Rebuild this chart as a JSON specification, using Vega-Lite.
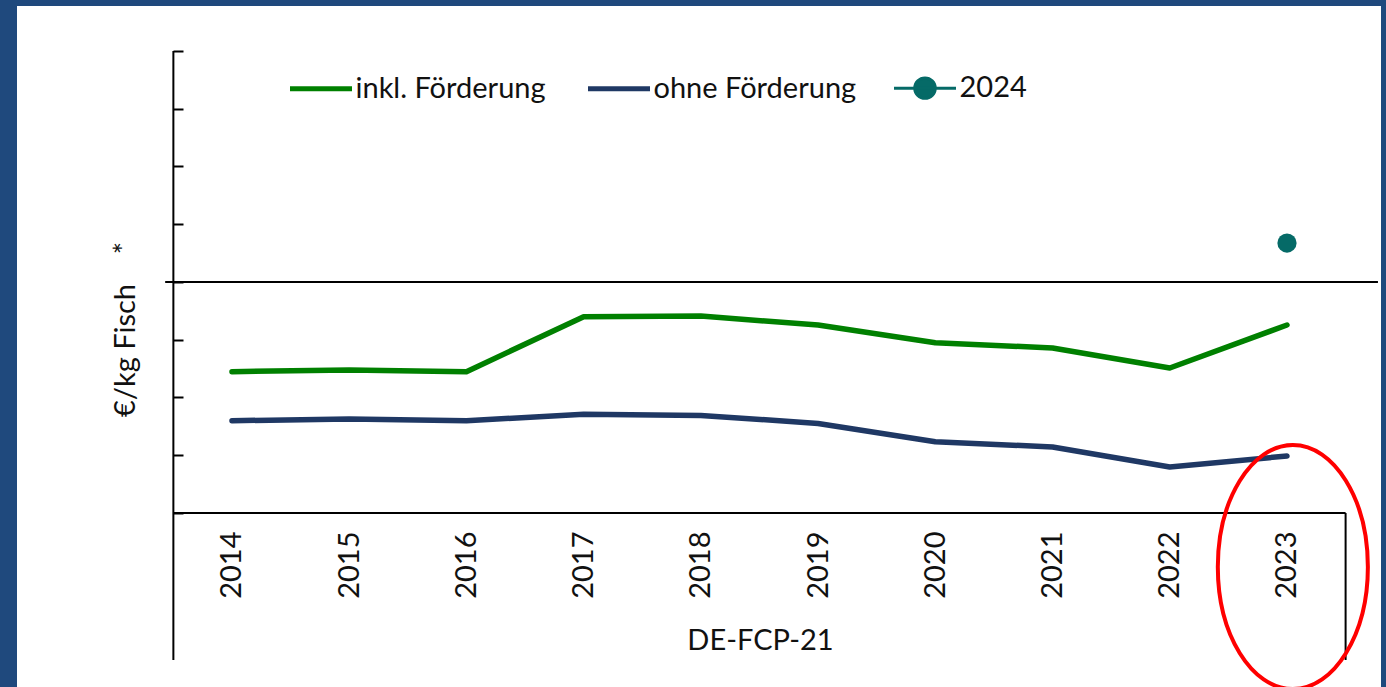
{
  "$schema": "https://vega.github.io/schema/vega-lite/v6.json",
  "width": 1364,
  "height": 681,
  "autosize": {"type": "none"},
  "padding": {"left": 17, "top": 6, "right": 5, "bottom": 0},
  "background": "#1F497D",
  "config": {
    "view": {"fill": "#FFFFFF", "stroke": null},
    "font": "Lato",
    "axis": {"grid": false}
  },
  "datasets": {
    "series": [
      {"year": 2014, "value": -1.553, "series": "inkl. Förderung"},
      {"year": 2015, "value": -1.524, "series": "inkl. Förderung"},
      {"year": 2016, "value": -1.553, "series": "inkl. Förderung"},
      {"year": 2017, "value": -0.600, "series": "inkl. Förderung"},
      {"year": 2018, "value": -0.590, "series": "inkl. Förderung"},
      {"year": 2019, "value": -0.745, "series": "inkl. Förderung"},
      {"year": 2020, "value": -1.052, "series": "inkl. Förderung"},
      {"year": 2021, "value": -1.143, "series": "inkl. Förderung"},
      {"year": 2022, "value": -1.489, "series": "inkl. Förderung"},
      {"year": 2023, "value": -0.745, "series": "inkl. Förderung"},
      {"year": 2014, "value": -2.402, "series": "ohne Förderung"},
      {"year": 2015, "value": -2.372, "series": "ohne Förderung"},
      {"year": 2016, "value": -2.402, "series": "ohne Förderung"},
      {"year": 2017, "value": -2.290, "series": "ohne Förderung"},
      {"year": 2018, "value": -2.310, "series": "ohne Förderung"},
      {"year": 2019, "value": -2.450, "series": "ohne Förderung"},
      {"year": 2020, "value": -2.766, "series": "ohne Förderung"},
      {"year": 2021, "value": -2.857, "series": "ohne Förderung"},
      {"year": 2022, "value": -3.203, "series": "ohne Förderung"},
      {"year": 2023, "value": -3.013, "series": "ohne Förderung"}
    ],
    "dot": [
      {"year": 2023, "value": 0.675, "series": "2024"}
    ]
  },
  "layer": [
    {
      "data": {"values": [{}]},
      "mark": {"type": "rule", "color": "#000000", "strokeWidth": 2},
      "encoding": {
        "x": {"datum": 2013.43, "type": "quantitative"},
        "x2": {"datum": 2023.776},
        "y": {"datum": 0, "type": "quantitative"}
      }
    },
    {
      "data": {"values": [{}]},
      "mark": {"type": "rule", "color": "#000000", "strokeWidth": 2},
      "encoding": {
        "x": {"datum": 2013.5, "type": "quantitative"},
        "y": {"datum": 4, "type": "quantitative"},
        "y2": {"datum": -6.545}
      }
    },
    {
      "data": {"values": [{}]},
      "mark": {"type": "rule", "color": "#000000", "strokeWidth": 2},
      "encoding": {
        "x": {"datum": 2013.5, "type": "quantitative"},
        "x2": {"datum": 2023.5},
        "y": {"datum": -4, "type": "quantitative"}
      }
    },
    {
      "data": {"values": [{}]},
      "mark": {"type": "rule", "color": "#000000", "strokeWidth": 2},
      "encoding": {
        "x": {"datum": 2023.5, "type": "quantitative"},
        "y": {"datum": -4, "type": "quantitative"},
        "y2": {"datum": -6.545}
      }
    },
    {
      "data": {"name": "series"},
      "mark": {"type": "line", "strokeWidth": 5.5, "strokeCap": "round", "strokeJoin": "round"},
      "encoding": {
        "x": {
          "field": "year",
          "type": "quantitative",
          "scale": {"domain": [2012.166, 2023.802], "nice": false, "zero": false},
          "axis": {
            "orient": "bottom",
            "offset": -175,
            "values": [2014, 2015, 2016, 2017, 2018, 2019, 2020, 2021, 2022, 2023],
            "format": "d",
            "labelAngle": 270,
            "labelAlign": "right",
            "labelBaseline": "middle",
            "labelPadding": 19,
            "ticks": false,
            "tickSize": 0,
            "domain": false,
            "labelFont": "Lato",
            "labelFontSize": 29,
            "labelColor": "#111111",
            "labelFlush": false,
            "labelOverlap": false,
            "title": "DE-FCP-21",
            "titleFont": "Lato",
            "titleFontSize": 29,
            "titleFontWeight": "normal",
            "titleColor": "#111111",
            "titleX": 743,
            "titleY": 128,
            "titleAlign": "center",
            "titleBaseline": "middle"
          }
        },
        "y": {
          "field": "value",
          "type": "quantitative",
          "scale": {"domain": [-7.013, 4.779], "nice": false, "zero": false},
          "axis": {
            "offset": -156,
            "values": [-4, -3, -2, -1, 0, 1, 2, 3, 4],
            "labels": false,
            "domain": false,
            "tickSize": -10,
            "tickWidth": 2,
            "tickColor": "#000000",
            "title": "€/kg Fisch\u00a0\u00a0\u00a0\u00a0*",
            "titleFont": "Lato",
            "titleFontSize": 29,
            "titleFontWeight": "normal",
            "titleColor": "#111111",
            "titleAngle": 270,
            "titleX": -48,
            "titleY": 323,
            "titleAlign": "center",
            "titleBaseline": "middle"
          }
        },
        "color": {
          "field": "series",
          "type": "nominal",
          "scale": {
            "domain": ["inkl. Förderung", "ohne Förderung", "2024"],
            "range": ["#008000", "#1F3864", "#056A67"]
          },
          "legend": {
            "orient": "none",
            "legendX": 270.5,
            "legendY": 48.5,
            "direction": "horizontal",
            "title": null,
            "padding": 0,
            "labelFont": "Lato",
            "labelFontSize": 29,
            "labelColor": "#111111",
            "labelLimit": 400,
            "labelOffset": 1,
            "columnPadding": 31,
            "symbolSize": 3844,
            "symbolType": "stroke",
            "symbolStrokeWidth": 5,
            "encode": {
              "symbols": {
                "update": {
                  "shape": {"signal": "(datum.value === '2024' ? 'M-1,0H1M-0.33,0A0.33,0.33 0 1,0 0.33,0A0.33,0.33 0 1,0 -0.33,0Z' : 'stroke')"},
                  "fill": {"signal": "(datum.value === '2024' ? '#056A67' : 'transparent')"},
                  "stroke": {"signal": "scale('color', datum.value)"},
                  "strokeWidth": {"signal": "(datum.value === '2024' ? 3 : 5)"},
                  "size": {"value": 3844},
                  "opacity": {"value": 1}
                }
              }
            }
          }
        }
      }
    },
    {
      "data": {"name": "dot"},
      "mark": {"type": "point", "filled": true, "size": 370, "opacity": 1},
      "encoding": {
        "x": {"field": "year", "type": "quantitative"},
        "y": {"field": "value", "type": "quantitative"},
        "color": {"field": "series", "type": "nominal"}
      }
    },
    {
      "data": {"values": [{}]},
      "mark": {
        "type": "point",
        "shape": "M-0.615,0A0.615,1 0 1,0 0.615,0A0.615,1 0 1,0 -0.615,0Z",
        "size": 59536,
        "filled": false,
        "stroke": "#FF0000",
        "strokeWidth": 4,
        "opacity": 1
      },
      "encoding": {
        "x": {"datum": 2023.05, "type": "quantitative"},
        "y": {"datum": -4.935, "type": "quantitative"}
      }
    }
  ]
}
